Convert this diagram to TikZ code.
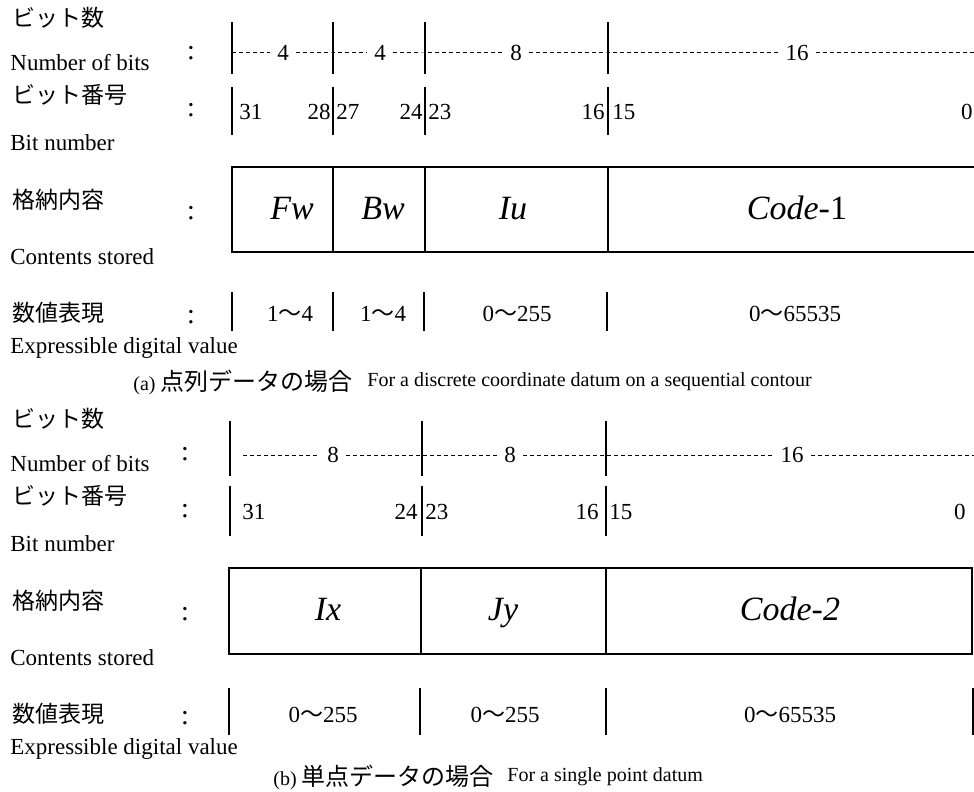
\documentclass[tikz,border=0pt]{standalone}
\usepackage{fontspec}
\setmainfont{Liberation Serif}
\newfontfamily\cjk{Noto Sans CJK JP}
\usepackage{tikz}
\usetikzlibrary{positioning,calc}
\tikzset{
  rowlab/.style={anchor=west, inner sep=0pt, font=\fontsize{11.5}{13}\selectfont},
  jplab/.style={anchor=west, inner sep=0pt, font=\cjk\fontsize{11.5}{13}\selectfont},
  colonlab/.style={inner sep=0pt, font=\fontsize{14}{16}\selectfont},
  bitstick/.style={line width=1pt},
  dashrule/.style={line width=0.5pt, dash pattern=on 2pt off 1.5pt},
  widthlab/.style={inner sep=3.5pt, font=\fontsize{11.5}{13}\selectfont},
  bitno/.style={inner sep=0pt, font=\fontsize{11.5}{13}\selectfont},
  fieldbox/.style={line width=1.1pt},
  fieldlab/.style={inner sep=0pt, text height=0.68em, text depth=0pt, font=\itshape\fontsize{17}{20}\selectfont},
  valrange/.style={inner sep=0pt, text height=0.68em, text depth=0pt, font=\fontsize{11.5}{13}\selectfont},
  capj/.style={anchor=west, inner sep=0pt, font=\fontsize{10}{12}\selectfont},
  cape/.style={anchor=west, inner sep=0pt, font=\fontsize{10}{12}\selectfont}
}
\newcommand{\til}{{\cjk ～}}

\begin{document}
\begin{tikzpicture}[x=0.5pt, y=-0.5pt]
  \useasboundingbox (0,0) rectangle (974,792);
  % row titles of both panels
  \foreach \p/\dy/\cx in {a/0/191,b/401/185}{
    \node[jplab] (\p-bitsj) at (12,18+\dy) {ビット数};
    \node[rowlab] (\p-bitse) at (10,63+\dy) {Number of bits};
    \node[jplab] (\p-noj) at (12,95+\dy) {ビット番号};
    \node[rowlab] (\p-noe) at (10,143+\dy) {Bit number};
    \node[jplab] (\p-contj) at (12,200+\dy) {格納内容};
    \node[rowlab] (\p-conte) at (10,257+\dy) {Contents stored};
    \node[jplab] (\p-valj) at (12,313+\dy) {数値表現};
    \node[rowlab] (\p-vale) at (10,348+\dy) {Expressible digital value};
    \foreach \cy in {53,110,213,317}{\node[colonlab] (\p-c\cy) at (\cx,\cy+\dy) {:};}
  }

  % (a) number of bits
  \foreach \x in {232,333,425,608}{\draw[bitstick] (\x,22) -- (\x,74);}
  \coordinate (a-t0) at (232,53);
  \coordinate (a-t1) at (333,53);
  \coordinate (a-t2) at (425,53);
  \coordinate (a-t3) at (608,53);
  \coordinate (a-t4) at (974,53);
  \node[widthlab] (a-w1) at (283,53) {4};
  \node[widthlab] (a-w2) at (380,53) {4};
  \node[widthlab] (a-w3) at (516,53) {8};
  \node[widthlab] (a-w4) at (797,53) {16};
  \draw[dashrule] (a-t0) -- (a-w1) -- (a-t1) -- (a-w2) -- (a-t2) -- (a-w3) -- (a-t3) -- (a-w4) -- (a-t4);

  % (a) bit numbers
  \foreach \x in {232,333,425,608}{\draw[bitstick] (\x,87) -- (\x,135);}
  \node[bitno, anchor=west] (a-b31) at (239,112) {31};
  \node[bitno, anchor=east] (a-b28) at (331,112) {28};
  \node[bitno, anchor=west] (a-b27) at (336,112) {27};
  \node[bitno, anchor=east] (a-b24) at (423,112) {24};
  \node[bitno, anchor=west] (a-b23) at (428,112) {23};
  \node[bitno, anchor=east] (a-b16) at (605,112) {16};
  \node[bitno, anchor=west] (a-b15) at (612,112) {15};
  \node[bitno, anchor=east] (a-b0) at (973,112) {0};

  % (a) contents stored
  \draw[fieldbox] (974,167) -- (232,167) -- (232,252) -- (974,252);
  \foreach \x in {333,425,608}{\draw[fieldbox] (\x,167) -- (\x,252);}
  \node[fieldlab] (a-fw) at (292,213) {Fw};
  \node[fieldlab] (a-bw) at (383,213) {Bw};
  \node[fieldlab] (a-iu) at (513,213) {Iu};
  \node[fieldlab] (a-code) at (797,213) {Code\upshape-1};

  % (a) value ranges
  \foreach \x in {232,333,424,607}{\draw[bitstick] (\x,292) -- (\x,331);}
  \node[valrange] (a-v1) at (290,315) {1\til4};
  \node[valrange] (a-v2) at (383,315) {1\til4};
  \node[valrange] (a-v3) at (517,315) {0\til255};
  \node[valrange] (a-v4) at (795,315) {0\til65535};

  \node[capj] (a-capj) at (133,382) {(a) {\cjk\fontsize{12}{14}\selectfont 点列データの場合}};
  \node[cape] (a-cape) at (367,382) {For a discrete coordinate datum on a sequential contour};

  % (b) number of bits
  \foreach \x in {230,422,606}{\draw[bitstick] (\x,421) -- (\x,476);}
  \coordinate (b-t0) at (243,455);
  \coordinate (b-t1) at (422,455);
  \coordinate (b-t2) at (606,455);
  \coordinate (b-t3) at (974,455);
  \node[widthlab] (b-w1) at (333,455) {8};
  \node[widthlab] (b-w2) at (510,455) {8};
  \node[widthlab] (b-w3) at (792,455) {16};
  \draw[dashrule] (b-t0) -- (b-w1) -- (b-t1) -- (b-w2) -- (b-t2) -- (b-w3) -- (b-t3);

  % (b) bit numbers
  \foreach \x in {230,422,606}{\draw[bitstick] (\x,486) -- (\x,536);}
  \node[bitno, anchor=west] (b-b31) at (242,512) {31};
  \node[bitno, anchor=east] (b-b24) at (418,512) {24};
  \node[bitno, anchor=west] (b-b23) at (425,512) {23};
  \node[bitno, anchor=east] (b-b16) at (599,512) {16};
  \node[bitno, anchor=west] (b-b15) at (609,512) {15};
  \node[bitno, anchor=east] (b-b0) at (966,512) {0};

  % (b) contents stored
  \draw[fieldbox] (229,568) rectangle (972,654);
  \foreach \x in {421,606}{\draw[fieldbox] (\x,568) -- (\x,654);}
  \node[fieldlab] (b-ix) at (328,614) {Ix};
  \node[fieldlab] (b-jy) at (503,614) {Jy};
  \node[fieldlab] (b-code) at (790,614) {Code-2};

  % (b) value ranges
  \foreach \x in {229,420,606,973}{\draw[bitstick] (\x,688) -- (\x,735);}
  \node[valrange] (b-v1) at (323,716) {0\til255};
  \node[valrange] (b-v2) at (505,716) {0\til255};
  \node[valrange] (b-v3) at (790,716) {0\til65535};

  \node[capj] (b-capj) at (273,777) {(b) {\cjk\fontsize{12}{14}\selectfont 単点データの場合}};
  \node[cape] (b-cape) at (507,777) {For a single point datum};
\end{tikzpicture}
\end{document}
